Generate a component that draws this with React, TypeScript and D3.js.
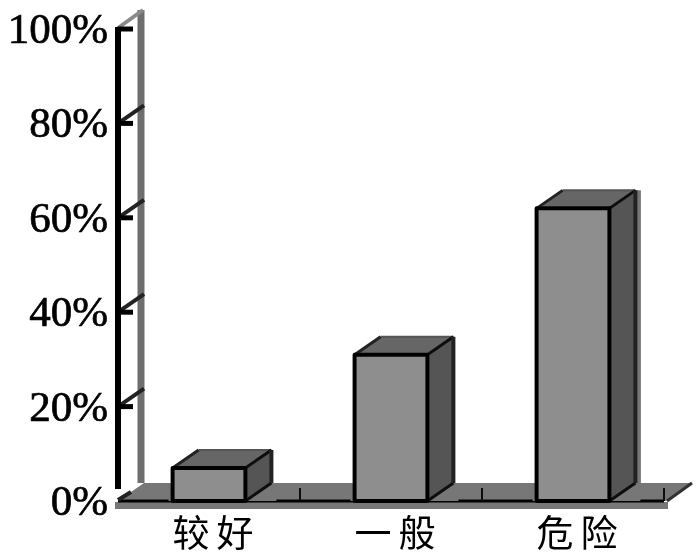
import * as d3 from 'd3'

const categories = ['较好', '一般', '危险']
const values = [7, 31, 62]
const tickValues = [0, 20, 40, 60, 80, 100]

const depthX = 26
const depthY = -18

const xScale = d3.scaleBand<string>()
    .domain(categories)
    .range([118, 664])
    .paddingInner(0.6)
    .paddingOuter(0.3)

const yScale = d3.scaleLinear()
    .domain([0, 100])
    .range([501, 29])

const poly = (pts: [number, number][]) => pts.map((p) => p.join(',')).join(' ')

function App() {
    const x0 = xScale.range()[0]
    const x1 = xScale.range()[1]
    const y0 = yScale(0)
    const yTop = yScale(100)
    const step = xScale.step()

    return (
        <svg width={700} height={560} style={{ position: 'absolute', left: 0, top: 0, background: '#fff' }}>
            <defs>
                <filter id="soft" x="-5%" y="-5%" width="110%" height="110%">
                    <feGaussianBlur stdDeviation="0.5" />
                </filter>
            </defs>
            <g filter="url(#soft)">
                {/* back wall edge */}
                <line x1={x0 + depthX - 3} x2={x0 + depthX - 3} y1={y0 + depthY} y2={yTop + depthY - 1} stroke="#6e6e6e" strokeWidth={7} />
                <line x1={x0} x2={x0 + depthX - 1} y1={yTop - 1} y2={yTop + depthY - 1} stroke="#8a8a8a" strokeWidth={4} />

                {/* floor */}
                <polygon
                    points={poly([[x0, y0], [x1 + 2, y0], [x1 + 28, y0 + depthY], [x0 + depthX, y0 + depthY]])}
                    fill="#777"
                />
                <rect x={x0 - 3} y={y0 + 1} width={x1 - x0 + 7} height={7} fill="#777" />
                <line x1={x1 + 3} x2={x1 + 28} y1={y0} y2={y0 + depthY} stroke="#333" strokeWidth={3} />
                <line x1={x0} x2={x1} y1={y0} y2={y0} stroke="#000" strokeWidth={3} />
                {[1, 2, 3].map((i) => (
                    <line
                        key={i}
                        x1={x0 + step * i}
                        x2={x0 + step * i}
                        y1={y0}
                        y2={y0 - 13}
                        stroke="#111"
                        strokeWidth={2}
                    />
                ))}

                {/* y axis */}
                {tickValues.map((t) => (
                    <g key={t} stroke="#000">
                        {t > 0 && t < 100 && (
                            <line x1={x0} x2={x0 + depthX} y1={yScale(t)} y2={yScale(t) + depthY} stroke="#222" strokeWidth={4} />
                        )}
                        {t > 0 && <line x1={x0} x2={x0 + 15} y1={yScale(t)} y2={yScale(t)} strokeWidth={5} />}
                    </g>
                ))}
                <line x1={x0} x2={x0} y1={yTop - 2} y2={y0 - 12} stroke="#000" strokeWidth={6} />
                <line x1={x0} x2={x0 + 13} y1={y0 - 1} y2={y0 - 9} stroke="#222" strokeWidth={4} />

                {/* bars */}
                {categories.map((c, i) => {
                    const left = xScale(c) as number
                    const right = left + xScale.bandwidth()
                    const top = yScale(values[i])
                    const floorBack = y0 + depthY
                    const backX = right + depthX
                    return (
                        <g key={c} strokeLinejoin="round">
                            <rect x={left - 4} y={floorBack} width={xScale.bandwidth() + depthX + 9} height={-depthY} fill="#777" />
                            {i === categories.length - 1 && (
                                <line x1={backX + 3} x2={backX + 3} y1={top + depthY} y2={floorBack} stroke="#777" strokeWidth={5} />
                            )}
                            <polygon
                                points={poly([[right, y0], [backX, floorBack], [backX, top + depthY], [right, top]])}
                                fill="#555"
                            />
                            <polygon
                                points={poly([[left, top], [right, top], [backX, top + depthY], [left + depthX, top + depthY]])}
                                fill="#666"
                            />
                            {/* outlines: back top edge stays soft, the rest is near black */}
                            <line x1={left + depthX} x2={backX} y1={top + depthY} y2={top + depthY} stroke="#555" strokeWidth={2} />
                            <line x1={left} x2={left + depthX} y1={top} y2={top + depthY} stroke="#222" strokeWidth={3} />
                            <line x1={right} x2={backX} y1={top} y2={top + depthY} stroke="#111" strokeWidth={3} />
                            <line x1={right} x2={backX} y1={y0} y2={floorBack} stroke="#111" strokeWidth={3} />
                            <line x1={backX} x2={backX} y1={top + depthY} y2={floorBack} stroke="#222" strokeWidth={4} />
                            <rect x={left} y={top} width={xScale.bandwidth()} height={y0 - top} fill="#8e8e8e" stroke="#050505" strokeWidth={4} />
                        </g>
                    )
                })}

                {tickValues.map((t) => (
                    <text
                        key={t}
                        x={108}
                        y={yScale(t) + 14}
                        textAnchor="end"
                        fontFamily="Liberation Serif"
                        fontWeight="normal"
                        fontSize={43}
                        fill="#000"
                        stroke="#000"
                        strokeWidth={0.7}
                    >
                        {t}%
                    </text>
                ))}

                {/* category labels */}
                {categories.map((c) => (
                    <text
                        key={c}
                        x={(xScale(c) as number) + xScale.bandwidth() / 2 + 7.5}
                        y={547}
                        textAnchor="middle"
                        fontFamily="Noto Sans CJK SC"
                        fontSize={37}
                        letterSpacing={7}
                        fill="#000"
                    >
                        {c}
                    </text>
                ))}
            </g>
        </svg>
    )
}

export default App
